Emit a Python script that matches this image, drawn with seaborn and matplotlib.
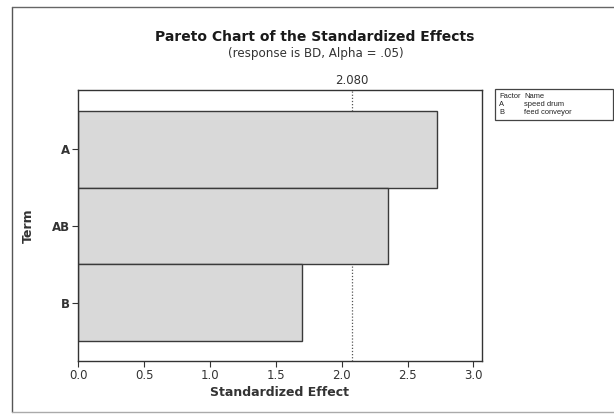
import matplotlib
matplotlib.use("Agg")
import matplotlib.pyplot as plt
from matplotlib.lines import Line2D
from matplotlib.patches import Rectangle
import seaborn as sns
import pandas as pd

# Pareto chart data: standardized effects per term
terms = ["A", "AB", "B"]
effects = [2.72, 2.35, 1.70]
critical_value = 2.080
x_ticks = [0.0, 0.5, 1.0, 1.5, 2.0, 2.5, 3.0]

legend_factors = ["A", "B"]
legend_names = ["speed drum", "feed conveyor"]

title = "Pareto Chart of the Standardized Effects"
subtitle = "(response is BD, Alpha = .05)"

sns.set_theme(style="white")
plt.rcParams["font.family"] = ["DejaVu Sans"]

W, H = 614, 416
fig = plt.figure(figsize=(W / 100, H / 100), dpi=100)
fig.patch.set_facecolor("white")

ax = fig.add_axes([78.3 / W, 1 - 360.7 / H, (481.7 - 78.3) / W, (360.7 - 90) / H])

df = pd.DataFrame({"Term": terms, "Effect": effects})
sns.barplot(data=df, x="Effect", y="Term", orient="h", width=1.0,
            color="#d9d9d9", edgecolor="#3a3a3a", linewidth=1.0,
            saturation=1, alpha=1.0, ax=ax)
for container in ax.containers:
    for bar in container:
        bar.set_zorder(5)
        bar.set_alpha(1.0)
        bar.set_facecolor("#d9d9d9")

# significance reference line, kept behind the bars
ax.axvline(critical_value, color="#555555", linestyle=(0, (1, 1.5)),
           linewidth=0.9, zorder=0.5)

ax.set_xlim(0, 3.063)
ax.set_ylim(2.756, -0.77)
ax.set_xticks(x_ticks)
ax.set_xticklabels([f"{t:.1f}" for t in x_ticks], fontsize=8.5, color="#333333")
ax.tick_params(axis="y", labelsize=8.5, labelcolor="#333333")
for lab in ax.get_yticklabels():
    lab.set_fontweight("bold")
ax.tick_params(axis="both", direction="out", length=4, width=0.8,
               color="#333333", left=True, bottom=True, pad=2)

ax.set_xlabel("Standardized Effect", fontsize=9, fontweight="bold",
              color="#333333", labelpad=3)
ax.set_ylabel("Term", fontsize=9, fontweight="bold", color="#333333",
              labelpad=12)

for s in ax.spines.values():
    s.set_color("#333333")
    s.set_linewidth(1.0)
    s.set_zorder(6)

ax.text(critical_value, 1.012, f"{critical_value:.3f}", transform=ax.get_xaxis_transform(),
        ha="center", va="bottom", fontsize=8.5, color="#333333")

# titles
fig.text(315 / W, 1 - 37 / H, title, ha="center", va="center",
         fontsize=10, fontweight="bold", color="#1a1a1a")
fig.text(316 / W, 1 - 54 / H, subtitle, ha="center", va="center",
         fontsize=8.6, color="#333333")

# factor/name key
fig.add_artist(Rectangle((495 / W, 1 - 120 / H), 118 / W, 31 / H,
                         transform=fig.transFigure, fill=False,
                         edgecolor="#444444", linewidth=0.9))
key_font = dict(fontsize=5.4, va="center", color="#222222",
                family=["Liberation Sans", "DejaVu Sans"])
fig.text(499 / W, 1 - 97 / H, "Factor", **key_font)
fig.text(524 / W, 1 - 97 / H, "Name", **key_font)
for i, (f, n) in enumerate(zip(legend_factors, legend_names)):
    yy = 1 - (104.5 + 7.5 * i) / H
    fig.text(499 / W, yy, f, **key_font)
    fig.text(524 / W, yy, n, **key_font)

# outer graph frame
fig.add_artist(Line2D([12 / W, 12 / W], [1 - 7 / H, 1 - 412 / H],
                      transform=fig.transFigure, color="#555555", linewidth=1.0))
fig.add_artist(Line2D([12 / W, 1.0], [1 - 7 / H, 1 - 7 / H],
                      transform=fig.transFigure, color="#666666", linewidth=1.0))
fig.add_artist(Line2D([12 / W, 1.0], [1 - 412 / H, 1 - 412 / H],
                      transform=fig.transFigure, color="#aaaaaa", linewidth=1.0))

fig.savefig("out.png", dpi=100)
